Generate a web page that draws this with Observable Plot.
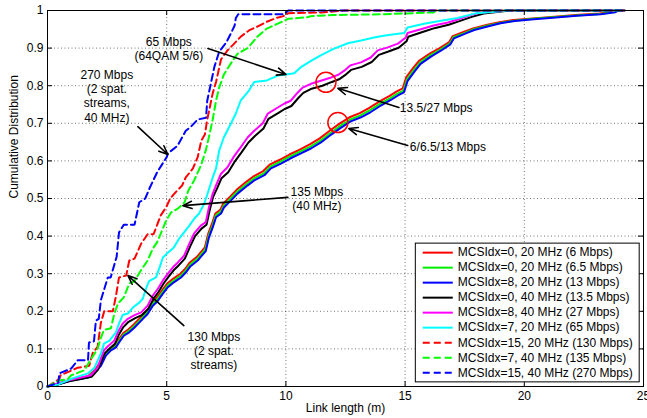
<!DOCTYPE html>
<html><head><meta charset="utf-8">
<script src="https://cdn.jsdelivr.net/npm/d3@7"></script>
<script src="https://cdn.jsdelivr.net/npm/@observablehq/plot@0.6"></script>
<style>body{margin:0;background:#fff}</style>
</head><body><div id="chart"></div>
<script>
// ---- series definitions ----
const seriesNames = [
  "MCSIdx=0, 20 MHz (6 Mbps)",
  "MCSIdx=0, 20 MHz (6.5 Mbps)",
  "MCSIdx=8, 20 MHz (13 Mbps)",
  "MCSIdx=0, 40 MHz (13.5 Mbps)",
  "MCSIdx=8, 40 MHz (27 Mbps)",
  "MCSIdx=7, 20 MHz (65 Mbps)",
  "MCSIdx=15, 20 MHz (130 Mbps)",
  "MCSIdx=7, 40 MHz (135 Mbps)",
  "MCSIdx=15, 40 MHz (270 Mbps)"
];
const seriesColors = ["#ff0000","#00ee00","#0000ff","#000000","#ff00ff","#00ffff","#ff0000","#00ff00","#0000ff"];
const seriesDashed = [false,false,false,false,false,false,true,true,true];

// [link length (m), cumulative fraction]
const cdf6 = [[0,0],[0.43,0.006],[1.0,0.018],[1.7,0.027],[1.95,0.042],[2.2,0.062],[2.42,0.088],[2.63,0.101],[2.85,0.11],[2.98,0.124],[3.18,0.142],[3.4,0.152],[3.62,0.165],[3.82,0.178],[3.98,0.189],[4.18,0.202],[4.4,0.225],[4.6,0.238],[4.82,0.257],[5.02,0.274],[5.28,0.287],[5.57,0.3],[5.78,0.313],[5.97,0.33],[6.27,0.345],[6.47,0.36],[6.6,0.37],[6.74,0.406],[6.9,0.433],[7.04,0.46],[7.25,0.47],[7.37,0.486],[7.66,0.505],[7.93,0.523],[8.35,0.545],[8.62,0.558],[9.05,0.573],[9.32,0.59],[9.74,0.603],[10.15,0.617],[10.58,0.63],[11.0,0.644],[11.42,0.66],[11.85,0.681],[12.25,0.699],[12.67,0.716],[13.1,0.727],[13.5,0.741],[13.95,0.759],[14.35,0.773],[14.65,0.785],[14.9,0.793],[15.05,0.823],[15.35,0.848],[15.6,0.867],[16.05,0.886],[16.45,0.9],[16.85,0.916],[17.0,0.932],[17.45,0.943],[17.85,0.952],[18.45,0.962],[18.95,0.969],[19.55,0.975],[20.35,0.979],[21.15,0.983],[22.15,0.988],[23.15,0.992],[23.75,0.997],[23.9,1.0],[24.2,1.0]];
const cdf6_5 = [[0,0],[0.43,0.005],[1.0,0.017],[1.7,0.025],[1.96,0.039],[2.22,0.058],[2.44,0.085],[2.65,0.098],[2.86,0.107],[2.99,0.12],[3.19,0.138],[3.42,0.148],[3.64,0.161],[3.84,0.174],[3.99,0.184],[4.19,0.197],[4.41,0.22],[4.62,0.233],[4.83,0.252],[5.04,0.269],[5.29,0.282],[5.59,0.295],[5.79,0.308],[5.99,0.325],[6.29,0.34],[6.49,0.355],[6.62,0.365],[6.76,0.401],[6.92,0.428],[7.06,0.455],[7.27,0.465],[7.39,0.481],[7.68,0.5],[7.95,0.518],[8.38,0.54],[8.65,0.553],[9.08,0.567],[9.35,0.585],[9.77,0.598],[10.18,0.612],[10.61,0.625],[11.03,0.638],[11.45,0.654],[11.88,0.675],[12.28,0.693],[12.7,0.71],[13.13,0.721],[13.53,0.735],[13.98,0.753],[14.38,0.767],[14.68,0.779],[14.93,0.787],[15.08,0.817],[15.38,0.843],[15.63,0.862],[16.08,0.882],[16.48,0.896],[16.88,0.913],[17.03,0.929],[17.48,0.94],[17.88,0.95],[18.48,0.96],[18.98,0.967],[19.58,0.973],[20.38,0.978],[21.18,0.982],[22.18,0.987],[23.18,0.991],[23.78,0.996],[23.93,1.0],[24.2,1.0]];
const cdf13 = [[0,0],[0.43,0.005],[1.0,0.016],[1.7,0.024],[1.97,0.037],[2.24,0.055],[2.45,0.082],[2.66,0.096],[2.87,0.104],[3.0,0.117],[3.2,0.135],[3.43,0.144],[3.65,0.157],[3.85,0.17],[4.0,0.18],[4.2,0.193],[4.42,0.215],[4.63,0.228],[4.84,0.247],[5.05,0.264],[5.3,0.277],[5.6,0.29],[5.8,0.303],[6.0,0.32],[6.3,0.335],[6.5,0.35],[6.64,0.36],[6.77,0.396],[6.93,0.423],[7.07,0.45],[7.28,0.46],[7.4,0.476],[7.7,0.495],[7.97,0.513],[8.4,0.535],[8.67,0.548],[9.1,0.562],[9.37,0.58],[9.79,0.593],[10.2,0.607],[10.63,0.62],[11.05,0.633],[11.47,0.649],[11.9,0.67],[12.3,0.688],[12.72,0.705],[13.15,0.716],[13.56,0.73],[14.0,0.748],[14.4,0.762],[14.7,0.774],[14.95,0.782],[15.1,0.812],[15.4,0.838],[15.65,0.858],[16.1,0.878],[16.5,0.893],[16.9,0.91],[17.05,0.926],[17.5,0.938],[17.9,0.948],[18.5,0.958],[19.0,0.966],[19.6,0.972],[20.4,0.977],[21.2,0.981],[22.2,0.986],[23.2,0.99],[23.8,0.995],[23.95,1.0],[24.2,1.0]];
const cdf13_5 = [[0,0],[0.43,0.006],[0.85,0.013],[1.4,0.02],[1.85,0.026],[2.12,0.045],[2.27,0.068],[2.4,0.088],[2.55,0.098],[2.83,0.114],[2.98,0.136],[3.18,0.158],[3.4,0.172],[3.68,0.182],[3.96,0.19],[4.23,0.207],[4.45,0.234],[4.66,0.252],[4.87,0.274],[5.08,0.292],[5.29,0.309],[5.5,0.322],[5.76,0.34],[5.98,0.372],[6.18,0.399],[6.46,0.42],[6.67,0.43],[6.8,0.468],[6.95,0.505],[7.1,0.525],[7.3,0.554],[7.58,0.57],[7.83,0.596],[8.13,0.622],[8.43,0.649],[8.7,0.666],[9.06,0.686],[9.27,0.712],[9.69,0.728],[9.95,0.738],[10.23,0.746],[10.53,0.768],[10.73,0.781],[11.08,0.792],[11.53,0.8],[11.93,0.81],[12.23,0.817],[12.48,0.828],[12.73,0.842],[13.18,0.85],[13.6,0.863],[13.9,0.882],[14.3,0.891],[14.73,0.901],[15.06,0.918],[15.13,0.93],[15.7,0.942],[16.23,0.953],[16.83,0.962],[17.25,0.971],[17.8,0.983],[18.3,0.992],[19.4,1.0],[24.2,1.0]];
const cdf27 = [[0,0],[0.43,0.008],[0.85,0.016],[1.4,0.024],[1.82,0.03],[2.1,0.05],[2.24,0.075],[2.37,0.096],[2.5,0.105],[2.8,0.122],[2.95,0.144],[3.15,0.167],[3.37,0.18],[3.65,0.19],[3.93,0.197],[4.2,0.215],[4.42,0.242],[4.63,0.26],[4.84,0.282],[5.05,0.3],[5.26,0.317],[5.47,0.33],[5.73,0.348],[5.95,0.38],[6.15,0.407],[6.43,0.428],[6.64,0.437],[6.77,0.476],[6.93,0.513],[7.07,0.535],[7.28,0.566],[7.55,0.583],[7.8,0.61],[8.1,0.636],[8.4,0.663],[8.67,0.68],[9.03,0.7],[9.24,0.726],[9.66,0.742],[9.92,0.752],[10.2,0.76],[10.5,0.782],[10.7,0.795],[11.05,0.805],[11.5,0.814],[11.9,0.822],[12.2,0.829],[12.45,0.84],[12.7,0.854],[13.15,0.862],[13.56,0.875],[13.85,0.894],[14.27,0.902],[14.7,0.912],[15.03,0.928],[15.1,0.94],[15.66,0.95],[16.2,0.96],[16.8,0.968],[17.2,0.976],[17.75,0.988],[18.2,0.995],[19.4,1.0],[24.2,1.0]];
const cdf65 = [[0,0],[0.43,0.005],[1.1,0.023],[1.7,0.035],[1.97,0.05],[2.24,0.088],[2.37,0.114],[2.6,0.122],[2.87,0.144],[3.0,0.167],[3.15,0.19],[3.37,0.194],[3.58,0.21],[3.85,0.223],[4.0,0.234],[4.13,0.26],[4.26,0.28],[4.55,0.29],[4.7,0.316],[4.84,0.343],[5.05,0.356],[5.3,0.37],[5.52,0.393],[5.73,0.41],[5.95,0.428],[6.15,0.446],[6.36,0.46],[6.57,0.486],[6.7,0.51],[6.8,0.53],[6.93,0.556],[7.07,0.58],[7.2,0.627],[7.4,0.663],[7.7,0.7],[7.9,0.726],[8.1,0.76],[8.45,0.787],[8.67,0.81],[9.2,0.814],[9.66,0.827],[10.0,0.83],[10.35,0.833],[10.6,0.848],[11.05,0.866],[11.5,0.882],[12.0,0.898],[12.6,0.913],[13.15,0.92],[13.7,0.928],[14.1,0.933],[14.55,0.937],[14.97,0.94],[15.1,0.955],[15.8,0.965],[16.5,0.973],[17.2,0.98],[18.0,0.993],[19.35,1.0],[24.2,1.0]];
const cdf130 = [[0,0],[0.5,0.02],[0.55,0.03],[1.27,0.05],[1.75,0.055],[1.9,0.09],[2.1,0.105],[2.24,0.17],[2.38,0.2],[2.74,0.2],[2.87,0.24],[3.0,0.29],[3.3,0.295],[3.43,0.335],[3.65,0.34],[3.93,0.38],[4.2,0.405],[4.45,0.405],[4.6,0.43],[4.75,0.455],[4.97,0.476],[5.15,0.5],[5.35,0.515],[5.65,0.535],[5.8,0.556],[6.1,0.58],[6.3,0.61],[6.45,0.654],[6.6,0.67],[6.7,0.71],[6.8,0.74],[6.93,0.78],[7.07,0.81],[7.28,0.87],[7.55,0.894],[7.8,0.91],[8.1,0.93],[8.45,0.947],[8.8,0.957],[9.2,0.97],[9.6,0.98],[9.9,0.985],[10.1,0.993],[11.5,0.995],[12.5,1.0],[24.2,1.0]];
const cdf135 = [[0,0],[0.5,0.016],[0.85,0.02],[1.0,0.03],[1.55,0.043],[1.75,0.065],[2.1,0.1],[2.24,0.13],[2.37,0.15],[2.66,0.155],[2.8,0.193],[2.95,0.22],[3.2,0.237],[3.43,0.274],[3.65,0.28],[3.93,0.31],[4.2,0.335],[4.42,0.367],[4.6,0.384],[4.84,0.42],[4.97,0.44],[5.18,0.463],[5.47,0.473],[5.75,0.49],[5.9,0.52],[6.15,0.548],[6.45,0.59],[6.64,0.628],[6.77,0.663],[6.93,0.71],[7.07,0.76],[7.2,0.795],[7.4,0.83],[7.7,0.86],[7.97,0.885],[8.4,0.9],[8.8,0.93],[9.2,0.952],[9.66,0.965],[10.1,0.978],[10.9,0.982],[11.05,0.985],[12.0,0.988],[14.0,0.99],[16.2,0.995],[16.3,1.0],[24.2,1.0]];
const cdf270 = [[0,0],[0.45,0.01],[0.5,0.035],[1.0,0.048],[1.27,0.07],[1.7,0.07],[1.74,0.117],[1.95,0.12],[2.03,0.175],[2.15,0.18],[2.24,0.23],[2.53,0.29],[2.65,0.29],[2.9,0.345],[3.0,0.41],[3.2,0.43],[3.65,0.43],[3.85,0.49],[4.1,0.5],[4.3,0.53],[4.6,0.57],[5.0,0.61],[5.05,0.62],[5.45,0.64],[5.8,0.68],[6.0,0.69],[6.3,0.71],[6.65,0.715],[6.7,0.76],[6.85,0.805],[7.0,0.85],[7.2,0.89],[7.5,0.915],[7.7,0.94],[7.85,0.96],[7.9,0.98],[8.0,0.99],[9.9,0.99],[10.1,1.0],[24.2,1.0]];
const seriesData = [cdf6, cdf6_5, cdf13, cdf13_5, cdf27, cdf65, cdf130, cdf135, cdf270];

// ---- axes ----
const xTicks = [0,5,10,15,20,25];
const yTicks = [0,0.1,0.2,0.3,0.4,0.5,0.6,0.7,0.8,0.9,1];

// ---- annotations (data coordinates) ----
const noteTexts = ["65 Mbps\n(64QAM 5/6)", "270 Mbps\n(2 spat.\nstreams,\n40 MHz)", "135 Mbps\n(40 MHz)", "130 Mbps\n(2 spat.\nstreams)"];
const noteX = [5.09, 2.49, 11.3, 6.98];
const noteY = [0.899, 0.773, 0.501, 0.0957];
const sideTexts = ["13.5/27 Mbps", "6/6.5/13 Mbps"];
const sideX = [14.78, 15.2];
const sideY = [0.739, 0.636];
const arrowFrom = [[6.73,0.899],[3.79,0.691],[10.08,0.503],[5.72,0.162],[14.74,0.742],[15.11,0.641]];
const arrowTo = [[10.0,0.83],[5.05,0.617],[5.68,0.481],[3.375,0.295],[12.18,0.793],[12.64,0.686]];
const circles = [[11.68,0.809],[12.18,0.702]];

// legend box (data coordinates)
const legendBox = {x1: 15.45, x2: 24.84, y1: 0.011, y2: 0.380};
const legendTop = 0.356, legendStep = 0.0399, legendLineX = [15.74, 17.0], legendTextX = 17.21;

const marks = [];
// grid
marks.push(Plot.gridX(xTicks.slice(1,-1), {stroke: "#000", strokeOpacity: 0.55, strokeDasharray: "1,2.5"}));
marks.push(Plot.gridY(yTicks.slice(1,-1), {stroke: "#000", strokeOpacity: 0.55, strokeDasharray: "1,2.5"}));
// series
seriesData.forEach((pts, i) => {
  marks.push(Plot.line(pts, {x: d => d[0], y: d => d[1], stroke: seriesColors[i], strokeWidth: 2,
    strokeDasharray: seriesDashed[i] ? "7,4" : null, strokeLinejoin: "miter"}));
});
// inward ticks
const tx = 5/23.88, ty = 5/376;
marks.push(Plot.ruleX(xTicks, {x: d => d, y1: 0, y2: ty, stroke: "#000"}));
marks.push(Plot.ruleX(xTicks, {x: d => d, y1: 1, y2: 1 - ty, stroke: "#000"}));
marks.push(Plot.ruleY(yTicks, {y: d => d, x1: 0, x2: tx, stroke: "#000"}));
marks.push(Plot.ruleY(yTicks, {y: d => d, x1: 25, x2: 25 - tx, stroke: "#000"}));
// annotations
marks.push(Plot.arrow(arrowFrom.map((f, i) => ({f, t: arrowTo[i]})), {
  x1: d => d.f[0], y1: d => d.f[1], x2: d => d.t[0], y2: d => d.t[1],
  stroke: "#000", strokeWidth: 1.6, headLength: 9, headAngle: 45}));
marks.push(Plot.dot(circles, {x: d => d[0], y: d => d[1], r: 10, stroke: "#ff0000", fill: "none", strokeWidth: 1.5}));
marks.push(Plot.text(noteTexts, {x: (d, i) => noteX[i], y: (d, i) => noteY[i], text: d => d,
  fontSize: 12, lineHeight: 1.18, fill: "#000"}));
marks.push(Plot.text(sideTexts, {x: (d, i) => sideX[i], y: (d, i) => sideY[i], text: d => d,
  fontSize: 12, textAnchor: "start", fill: "#000"}));
// legend
marks.push(Plot.rect([legendBox], {x1: "x1", x2: "x2", y1: "y1", y2: "y2", fill: "#fff", stroke: "#000", strokeWidth: 1}));
seriesNames.forEach((name, i) => {
  const yy = legendTop - i * legendStep;
  marks.push(Plot.link([name], {x1: legendLineX[0], x2: legendLineX[1], y1: yy, y2: yy,
    stroke: seriesColors[i], strokeWidth: 2, strokeDasharray: seriesDashed[i] ? "7,4" : null}));
});
marks.push(Plot.text(seriesNames, {x: legendTextX, y: (d, i) => legendTop - i * legendStep, text: d => d,
  textAnchor: "start", fontSize: 12, fill: "#000"}));
// frame & axes
marks.push(Plot.frame({stroke: "#000"}));
marks.push(Plot.axisX(xTicks, {tickSize: 0, tickPadding: 5, tickFormat: d => String(d), label: null, fontSize: 12}));
marks.push(Plot.axisY(yTicks, {tickSize: 0, tickPadding: 4, tickFormat: d => String(d), label: null, fontSize: 12}));
marks.push(Plot.text(["Link length (m)"], {frameAnchor: "bottom", dy: 25, text: d => d, fontSize: 12}));
marks.push(Plot.text(["Cumulative Distribution"], {frameAnchor: "left", dx: -33, rotate: -90, text: d => d, fontSize: 12}));

const chart = Plot.plot({
  width: 647, height: 418,
  marginLeft: 47, marginRight: 4, marginTop: 10, marginBottom: 32,
  x: {domain: [0, 25]},
  y: {domain: [0, 1]},
  style: {fontFamily: "'Liberation Sans', Arial, Helvetica, sans-serif", fontSize: "12px", background: "#fff", color: "#000"},
  marks
});
document.getElementById("chart").appendChild(chart);
</script>
</body></html>
